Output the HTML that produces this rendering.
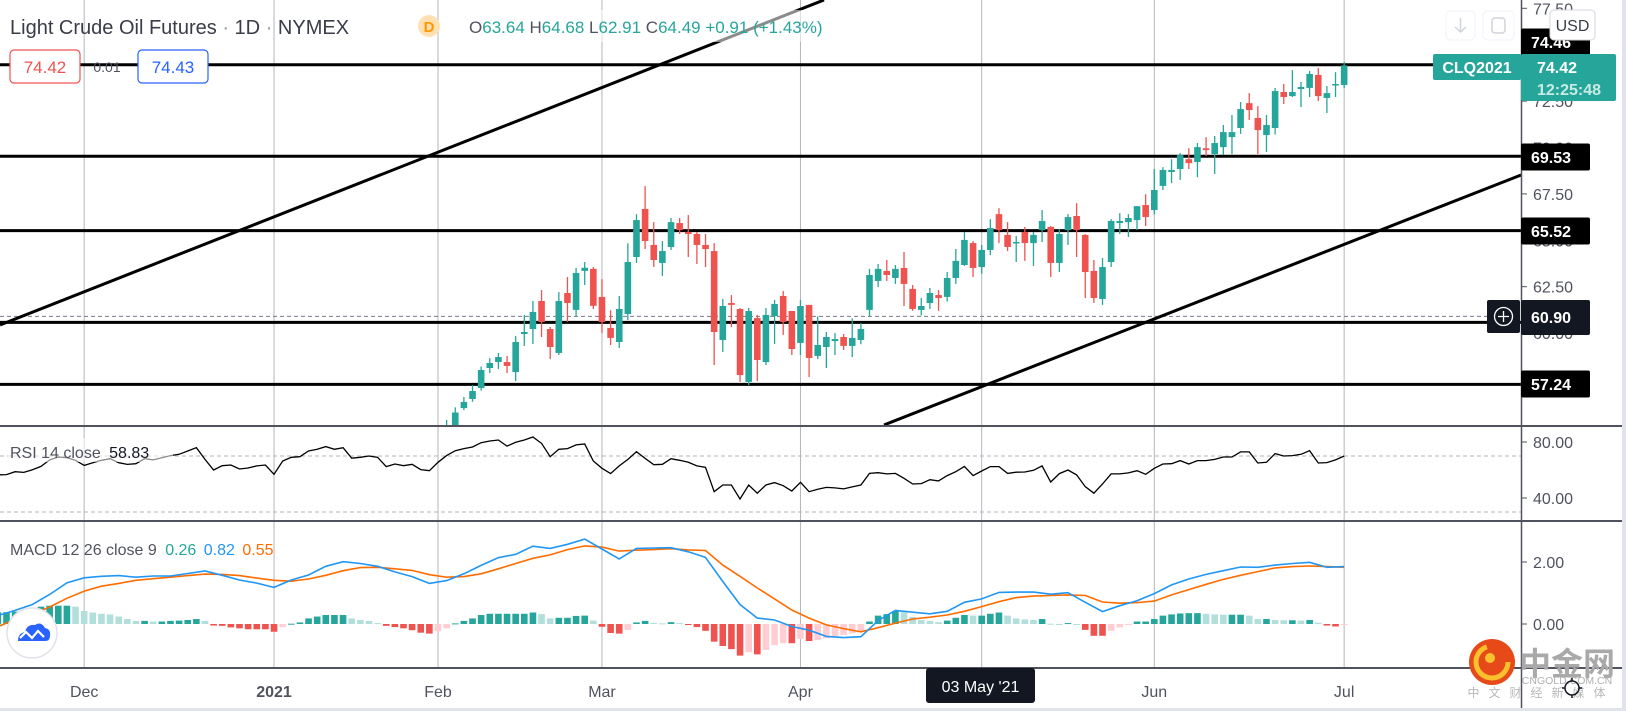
<!DOCTYPE html>
<html><head><meta charset="utf-8"><title>Light Crude Oil Futures</title>
<style>
html,body{margin:0;padding:0;background:#fff;}
svg{display:block;font-family:"Liberation Sans","Noto Sans CJK SC",sans-serif;}
</style></head>
<body>
<svg id="chart" width="1626" height="711" viewBox="0 0 1626 711" xmlns="http://www.w3.org/2000/svg">
<defs>
<clipPath id="cp-price"><rect x="0" y="0" width="1521" height="426"/></clipPath>
<clipPath id="cp-rsi"><rect x="0" y="427" width="1521" height="94"/></clipPath>
<clipPath id="cp-macd"><rect x="0" y="522" width="1521" height="146"/></clipPath>
</defs>
<rect x="0" y="0" width="1626" height="711" fill="#ffffff"/>
<rect x="1622" y="0" width="4" height="711" fill="#e0e3eb"/>
<rect x="0" y="708" width="1626" height="3" fill="#e0e3eb"/>
<g id="grid"></g>
<g id="price-pane" clip-path="url(#cp-price)"></g>
<g id="rsi-pane" clip-path="url(#cp-rsi)"></g>
<g id="macd-pane" clip-path="url(#cp-macd)"></g>
<g id="overlays"></g>
</svg>
<script>
// ---- data ----
const monthLabels = ["Dec","2021","Feb","Mar","Apr","May","Jun","Jul"];
const monthIdx = [-41,-19,0,19,42,63,83,105];
const opens = [52.8,53.9,54.75,55.96,56.45,57.04,58.12,58.44,58.44,57.90,
59.95,60.22,61.73,60.22,58.93,62.16,61.25,63.35,63.46,61.95,
60.28,59.52,61.03,64.10,66.69,64.75,63.78,64.64,65.93,65.45,
65.34,64.75,64.42,59.63,61.62,61.30,57.37,60.81,58.44,60.92,
62.0,61.19,59.47,61.52,58.77,59.25,59.57,59.79,59.31,59.63,
61.25,62.81,63.35,62.97,63.51,62.38,61.25,61.62,62.05,61.95,
62.97,63.67,64.85,63.56,64.48,66.41,65.29,64.85,65.45,64.85,
65.55,65.72,63.78,65.55,66.31,65.29,63.35,61.84,63.83,65.93,
65.98,66.09,66.9,66.63,67.93,68.68,68.84,69.37,69.22,69.96,
69.65,70.02,70.56,71.05,72.39,71.59,70.67,71.05,72.99,72.77,
73.15,73.21,73.91,72.67,73.40,73.37];
const closes = [53.55,54.75,55.72,56.29,56.88,58.01,58.39,58.71,58.23,59.52,
60.06,61.14,60.60,59.25,61.73,61.62,63.24,63.52,61.47,60.60,
59.74,61.30,63.83,66.09,64.96,63.94,64.42,65.98,65.55,65.34,
64.75,64.53,60.06,61.46,61.52,57.74,61.19,58.55,60.98,61.57,
60.60,59.14,61.46,58.66,59.36,59.79,59.68,59.31,59.74,60.22,
63.13,63.46,63.13,63.46,62.65,61.30,61.46,62.16,61.89,62.97,
63.89,65.02,63.51,64.48,65.66,65.55,64.64,64.91,64.85,65.29,
66.04,63.78,65.34,66.25,65.55,63.29,61.89,63.56,66.04,66.04,
66.2,66.84,66.25,67.71,68.79,68.79,69.59,69.16,70.02,69.86,
70.24,70.83,70.83,72.07,72.02,70.94,71.21,73.04,72.72,72.99,
73.26,73.96,72.77,72.93,73.42,74.42];
const highs = [53.9,55.32,56.0,56.56,57.2,58.2,58.65,58.93,58.77,59.85,
60.98,61.73,62.32,60.33,62.21,63.02,63.51,63.83,63.56,62.91,
61.23,62.0,64.84,66.41,67.92,65.98,64.96,66.2,66.2,66.36,
65.45,65.34,64.85,61.84,62.05,61.35,61.35,60.98,61.35,61.79,
62.27,61.2,61.79,61.52,60.90,60.06,60.0,59.95,60.8,60.54,
63.46,63.72,63.94,63.67,64.37,62.59,61.9,62.43,62.32,63.29,
64.53,65.45,64.96,64.75,66.14,66.73,65.98,65.23,65.72,65.45,
66.63,65.77,65.61,66.41,67.0,65.34,63.94,64.04,66.14,66.46,
66.41,66.85,67.48,68.84,68.94,69.37,69.7,69.96,70.24,70.56,
70.62,71.21,71.75,72.45,72.93,72.23,71.75,73.21,73.42,74.17,
73.53,74.12,74.28,73.31,74.06,74.6];
const lows = [52.2,53.7,54.6,55.85,56.3,56.9,57.85,58.07,57.85,57.42,
59.31,59.41,59.79,58.6,58.82,60.6,60.92,62.59,61.3,60.0,
59.36,59.2,60.7,63.78,64.53,63.56,63.08,64.48,65.34,64.1,
63.72,63.56,58.28,58.98,60.33,57.37,57.2,57.42,58.28,59.41,
59.9,58.82,58.82,57.63,58.6,58.12,58.82,59.09,58.71,59.4,
60.9,62.48,62.81,62.65,61.46,61.2,60.95,61.3,61.2,61.7,
62.65,63.62,63.02,63.2,64.2,64.85,64.42,63.83,63.89,63.62,
64.91,63.02,63.29,64.75,64.1,61.89,61.62,61.52,63.56,65.34,
65.18,65.55,65.77,66.4,67.71,68.08,68.25,68.84,68.4,69.54,
68.57,69.59,69.65,70.73,71.48,69.65,69.76,70.7,72.34,72.72,
72.18,72.72,72.5,71.86,72.72,73.2];
const levelPrices = [74.46,69.53,65.52,60.58,57.24];
const levelLabels = ["74.46","69.53","65.52","","57.24"];
const trendStartIdx = [-50.75,51.68];
const trendStartPrice = [60.44,55.05];
const trendEndIdx = [44.73,125.5];
const trendEndPrice = [77.95,68.52];
const priceTicks = [77.5,75,72.5,70,67.5,65,62.5,60,57.5];
const rsiStart = -51;
const rsiValues = [56.5,56.7,58.8,58.3,60.2,62.6,67.2,69.3,68.8,66.9,
63.3,65.2,66.9,68.1,65.2,64.0,64.5,68.1,67.2,68.8,
70.3,71.2,73.6,75.9,67.6,60.0,63.1,63.6,60.7,61.4,
62.9,63.6,56.9,66.4,69.1,69.5,73.6,74.8,76.7,74.8,
75.9,68.4,69.1,70.0,69.1,62.4,64.3,63.1,64.1,60.3,
59.5,65.5,70.3,73.8,75.3,76.4,79.5,80.7,81.4,77.1,
79.8,81.4,83.6,79.0,69.5,74.8,75.3,77.9,78.6,66.4,
61.2,57.4,62.9,67.6,73.1,68.3,63.8,64.1,68.1,66.9,
65.5,62.9,61.9,44.5,49.3,49.3,39.3,49.3,43.4,49.3,
51.0,48.8,45.0,51.2,44.5,46.2,47.6,47.2,46.5,47.9,
49.3,57.6,58.1,57.2,57.6,54.1,50.0,50.3,53.1,52.2,
56.0,58.8,62.6,56.0,59.3,62.4,62.4,57.6,58.4,58.6,
59.8,62.9,51.4,57.4,60.0,56.5,48.1,43.4,50.0,57.2,
57.2,57.9,59.5,56.9,61.2,64.3,64.5,66.7,64.3,66.7,
66.7,67.6,69.3,69.3,72.9,72.9,65.0,65.5,71.7,70.0,
70.3,71.2,73.8,65.0,65.3,67.2,70.0];
const rsiTicks = [80,40];
const macdStart = -51;
const macdStep = 2;
const macdValues = [0.27,0.44,0.63,0.95,1.33,1.49,1.54,1.56,1.51,1.55,
1.55,1.63,1.71,1.57,1.42,1.32,1.18,1.42,1.58,1.86,
2.01,1.95,1.86,1.68,1.53,1.31,1.40,1.62,1.89,2.14,
2.25,2.51,2.44,2.57,2.74,2.42,2.10,2.44,2.45,2.46,
2.33,2.15,1.37,0.63,0.19,0.13,-0.08,-0.20,-0.40,-0.44,
-0.41,0.11,0.44,0.38,0.33,0.41,0.70,0.81,1.02,1.03,
1.03,0.96,1.01,0.70,0.40,0.59,0.75,0.98,1.26,1.45,
1.60,1.72,1.84,1.83,1.90,1.95,1.99,1.83,1.85];
const signalValues = [-0.09,0.15,0.31,0.55,0.83,1.06,1.22,1.31,1.41,1.46,
1.51,1.56,1.61,1.60,1.56,1.48,1.41,1.38,1.45,1.57,
1.72,1.82,1.83,1.78,1.73,1.59,1.51,1.53,1.62,1.78,
1.95,2.12,2.23,2.40,2.52,2.48,2.35,2.38,2.40,2.43,
2.39,2.37,1.90,1.54,1.16,0.81,0.45,0.19,-0.03,-0.15,
-0.25,-0.12,0.03,0.16,0.22,0.29,0.41,0.56,0.72,0.85,
0.90,0.92,0.94,0.92,0.71,0.67,0.69,0.74,0.94,1.11,
1.28,1.44,1.57,1.69,1.81,1.85,1.87,1.85,1.83];
const histStart = -51;
const histValues = [0.38,0.38,0.40,0.45,0.51,0.56,0.59,0.59,0.59,
0.56,0.42,0.37,0.33,0.31,0.24,0.16,0.10,
0.10,0.08,0.08,0.10,0.11,0.13,0.16,0.10,
-0.05,-0.06,-0.11,-0.14,-0.17,-0.17,-0.17,-0.25,-0.10,
0.01,0.05,0.18,0.24,0.29,0.29,0.29,0.18,0.13,0.10,0.03,
-0.06,-0.10,-0.14,-0.20,-0.28,-0.31,-0.23,-0.14,
0.02,0.10,0.18,0.29,0.33,0.33,0.33,0.33,0.33,0.37,0.32,
0.18,0.20,0.20,0.26,0.27,0.11,
-0.09,-0.29,-0.31,-0.19,0.05,0.10,0.04,0.02,0.06,
0.03,-0.03,-0.10,-0.22,-0.57,-0.71,-0.81,-1.02,-0.91,-0.98,-0.84,-0.68,-0.62,-0.62,-0.48,-0.55,-0.52,-0.46,-0.39,-0.35,-0.30,-0.25,
0.08,0.27,0.32,0.42,0.38,0.23,0.13,0.10,0.06,0.11,0.20,0.29,0.27,0.27,0.33,0.37,0.27,0.18,0.15,0.13,0.16,0.01,0.00,0.03,0.00,
-0.19,-0.38,-0.38,-0.22,-0.11,-0.02,0.08,0.08,0.16,0.27,0.31,0.34,0.35,0.35,0.33,0.31,0.30,0.30,0.30,0.27,0.16,0.16,0.13,0.12,0.12,0.11,0.13,0.04,-0.05,-0.08,-0.02];
const macdTicks = [2,0];

// ---- axes ----
const NS = "http://www.w3.org/2000/svg";
const xk = k => 438 + 8.63 * k;
const yP = p => 286.7 - (p - 62.5) * 18.56;
const yR = v => 442 + (80 - v) * 1.4;
const yM = v => 624 - v * 31;
function mk(tag, attrs, parent, text){
  const e = document.createElementNS(NS, tag);
  for (const a in attrs) e.setAttribute(a, attrs[a]);
  if (text !== undefined) e.textContent = text;
  parent.appendChild(e);
  return e;
}
const grid = document.getElementById('grid');
const pp = document.getElementById('price-pane');
const rp = document.getElementById('rsi-pane');
const mp = document.getElementById('macd-pane');
const ov = document.getElementById('overlays');

// vertical grid + time labels
monthLabels.forEach((lab, i) => {
  const x = xk(monthIdx[i]);
  const l = mk('line', {x1:x, x2:x, y1:0, y2:668, stroke:'#b2b5be', 'stroke-width':1}, grid);
  
  
  if (lab !== 'May') {
    const t = mk('text', {x:x, y:697, 'text-anchor':'middle', 'font-size':16, fill:'#50535e', 'font-weight': lab === '2021' ? 'bold' : 'normal'}, ov, lab);
    
    
  }
});

// horizontal levels
levelPrices.forEach((p, i) => {
  const l = mk('line', {x1:0, x2:1521, y1:yP(p), y2:yP(p), stroke:'#000', 'stroke-width':3}, pp);
  
  
});
const dl = mk('line', {x1:0, x2:1487, y1:yP(60.90), y2:yP(60.90), stroke:'#787b86', 'stroke-width':1, 'stroke-dasharray':'4 3'}, pp);



// trendlines
trendStartIdx.forEach((s, i) => {
  const l = mk('line', {x1:xk(s), y1:yP(trendStartPrice[i]), x2:xk(trendEndIdx[i]), y2:yP(trendEndPrice[i]), stroke:'#000', 'stroke-width':3}, pp);
  
  
});

// candles
closes.forEach((c, k) => {
  const o = opens[k], up = c >= o, col = up ? '#26a69a' : '#ef5350';
  const x = xk(k);
  const g = mk('g', {}, pp);
  
  
  mk('line', {x1:x, x2:x, y1:yP(highs[k]), y2:yP(lows[k]), stroke:col, 'stroke-width':1.3}, g);
  const top = yP(Math.max(o, c)), bot = yP(Math.min(o, c));
  mk('rect', {x:x - 3.3, y:top, width:6.6, height:Math.max(1.5, bot - top), fill:col}, g);
});

// RSI
[70,30].forEach(v => {
  const l = mk('line', {x1:0, x2:1521, y1:yR(v), y2:yR(v), stroke:'#b2b5be', 'stroke-width':1, 'stroke-dasharray':'4 3'}, rp);
  
  
});
const rpts = rsiValues.map((v, i) => xk(rsiStart + i).toFixed(1) + ',' + yR(v).toFixed(1)).join(' ');
const rl = mk('polyline', {points:rpts, fill:'none', stroke:'#000', 'stroke-width':1.3}, rp);



// MACD histogram
histValues.forEach((v, i) => {
  const prev = i > 0 ? histValues[i - 1] : v;
  let col;
  if (v >= 0) col = v >= prev ? '#26a69a' : '#b2dfdb';
  else col = v <= prev ? '#ef5350' : '#ffcdd2';
  const x = xk(histStart + i);
  const y0 = yM(0), y1 = yM(v);
  const b = mk('rect', {x:x - 3.3, y:Math.min(y0, y1), width:6.6, height:Math.max(1, Math.abs(y1 - y0)), fill:col}, mp);
  
  
});
const mpts = macdValues.map((v, i) => xk(macdStart + i * macdStep).toFixed(1) + ',' + yM(v).toFixed(1)).join(' ');
const spts = signalValues.map((v, i) => xk(macdStart + i * macdStep).toFixed(1) + ',' + yM(v).toFixed(1)).join(' ');
const sl = mk('polyline', {points:spts, fill:'none', stroke:'#ff6d00', 'stroke-width':1.6}, mp);


const ml = mk('polyline', {points:mpts, fill:'none', stroke:'#2196f3', 'stroke-width':1.6}, mp);



// pane separators and axis line
[[426,'price-rsi-separator'],[521,'rsi-macd-separator'],[668,'time-axis-line']].forEach(s => {
  const l = mk('line', {x1:0, x2:1622, y1:s[0], y2:s[0], stroke:'#50535e', 'stroke-width':2}, ov);
  
  
});
const al = mk('line', {x1:1521.5, x2:1521.5, y1:0, y2:708, stroke:'#50535e', 'stroke-width':1.5}, ov);



// price ticks
priceTicks.forEach(p => {
  const y = yP(p);
  mk('line', {x1:1521, x2:1527, y1:y, y2:y, stroke:'#50535e', 'stroke-width':1}, ov);
  const t = mk('text', {x:1533, y:y + 6, 'font-size':16, fill:'#50535e'}, ov, p.toFixed(2));
  
  
});
rsiTicks.forEach(v => {
  const y = yR(v);
  mk('line', {x1:1521, x2:1527, y1:y, y2:y, stroke:'#50535e', 'stroke-width':1}, ov);
  const t = mk('text', {x:1533, y:y + 6, 'font-size':16, fill:'#50535e'}, ov, v.toFixed(2));
  
  
});
macdTicks.forEach(v => {
  const y = yM(v);
  mk('line', {x1:1521, x2:1527, y1:y, y2:y, stroke:'#50535e', 'stroke-width':1}, ov);
  const t = mk('text', {x:1533, y:y + 6, 'font-size':16, fill:'#50535e'}, ov, v.toFixed(2));
  
  
});

// level labels on axis
const levelLabelY = [42, 157, 231, 0, 384];
levelLabels.forEach((lab, i) => {
  if (!lab) return;
  const g = mk('g', {}, ov);
  
  
  mk('rect', {x:1521, y:levelLabelY[i] - 13.5, width:69, height:27, rx:2, fill:'#000'}, g);
  mk('text', {x:1531, y:levelLabelY[i] + 6, 'font-size':16, 'font-weight':'bold', fill:'#fff'}, g, lab);
});
</script>
<!-- static overlays -->
<g>
</g>
<script>
(function(){
  const NS = "http://www.w3.org/2000/svg";
  const ov = document.getElementById('overlays');
  ov.insertAdjacentHTML('beforeend', `
  <rect x="460" y="10" width="430" height="32" fill="#ffffff" fill-opacity="0.55"/>
  <text x="10" y="34" font-size="20" fill="#3a3d48">Light Crude Oil Futures <tspan fill="#9598a1">·</tspan> 1D <tspan fill="#9598a1">·</tspan> NYMEX</text>
  <circle cx="429" cy="26" r="11" fill="#ffe0b2"/>
  <text x="429" y="32" font-size="15" font-weight="bold" fill="#ff9800" text-anchor="middle">D</text>
  <text x="469" y="33" font-size="17" fill="#26a69a"><tspan fill="#50535e">O</tspan>63.64 <tspan fill="#50535e">H</tspan>64.68 <tspan fill="#50535e">L</tspan>62.91 <tspan fill="#50535e">C</tspan>64.49 +0.91 (+1.43%)</text>
  <g>
    <rect x="10" y="50" width="70" height="33" rx="4" fill="#fff" stroke="#ef5350" stroke-width="1.2"/>
    <text x="45" y="73" font-size="17" fill="#ef5350" text-anchor="middle">74.42</text>
  </g>
  <text x="107" y="72" font-size="14" fill="#50535e" text-anchor="middle">0.01</text>
  <g>
    <rect x="138" y="50" width="70" height="33" rx="4" fill="#fff" stroke="#2962ff" stroke-width="1.2"/>
    <text x="173" y="73" font-size="17" fill="#2962ff" text-anchor="middle">74.43</text>
  </g>
  <g>
    <rect x="1446" y="11" width="29" height="29" rx="5" fill="#fff" stroke="#f0f3fa"/>
    <path d="M1460.5 18 v14 M1455 27 l5.5 5 l5.5 -5" stroke="#d1d4dc" stroke-width="1.5" fill="none"/>
  </g>
  <g>
    <rect x="1483" y="11" width="31" height="29" rx="5" fill="#fff" stroke="#f0f3fa"/>
    <rect x="1492" y="18" width="13" height="15" rx="3" fill="none" stroke="#d1d4dc" stroke-width="1.5"/>
  </g>
  <g>
    <rect x="1550" y="10" width="45" height="30" rx="4" fill="#fff" stroke="#d1d4dc"/>
    <text x="1572.5" y="31" font-size="16" fill="#3a3d48" text-anchor="middle">USD</text>
  </g>
  <g>
    <rect x="1433" y="54" width="88" height="26" rx="2" fill="#26a69a"/>
    <text x="1477" y="73" font-size="16" font-weight="bold" fill="#fff" text-anchor="middle">CLQ2021</text>
  </g>
  <g>
    <rect x="1521" y="54" width="95" height="47" rx="2" fill="#26a69a"/>
    <text x="1537" y="73" font-size="16" font-weight="bold" fill="#fff">74.42</text>
    <text x="1537" y="95" font-size="16" font-weight="bold" fill="#c8ebe6">12:25:48</text>
  </g>
  <g>
    <rect x="1487" y="300" width="33" height="33" rx="2" fill="#131722"/>
    <circle cx="1503.5" cy="316.5" r="9" fill="none" stroke="#fff" stroke-width="1.3"/>
    <path d="M1503.5 311 v11 M1498 316.5 h11" stroke="#fff" stroke-width="1.3"/>
  </g>
  <g>
    <rect x="1521" y="300" width="69" height="35" rx="2" fill="#131722"/>
    <text x="1531" y="323" font-size="16" font-weight="bold" fill="#fff">60.90</text>
  </g>
  <rect x="8" y="438" width="165" height="24" fill="#fff" fill-opacity="0.55"/>
  <text x="10" y="458" font-size="16" fill="#50535e">RSI 14 close <tspan dx="4" fill="#131722">58.83</tspan></text>
  <text x="10" y="555" font-size="16" fill="#50535e">MACD 12 26 close 9 <tspan dx="4" fill="#26a69a">0.26</tspan> <tspan dx="3" fill="#2196f3">0.82</tspan> <tspan dx="3" fill="#ff6d00">0.55</tspan></text>
  <g>
    <rect x="926" y="668" width="109" height="35" rx="3" fill="#131722"/>
    <text x="980.5" y="692" font-size="16" fill="#fff" text-anchor="middle">03 May '21</text>
  </g>
  <g>
    <circle cx="32" cy="633" r="25" fill="#fff" stroke="#e0e3eb" stroke-width="1.5"/>
    <path d="M18 641 q0 -8 7 -9 q2 -8 10 -7 q6 -4 10 3 q6 1 5 8 q0 5 -5 5 h-22 q-5 0 -5 0z" fill="#2962ff"/>
    <path d="M20 638 l6 -6 l6 6 l6 -7 l6 6" stroke="#fff" stroke-width="2.2" fill="none"/>
  </g>
  <g>
    <circle cx="1492" cy="662" r="23" fill="#e64a19"/>
    <circle cx="1492" cy="662" r="16" fill="none" stroke="#fbc02d" stroke-width="5" stroke-dasharray="70 40"/>
    <circle cx="1490" cy="658" r="5" fill="#fbc02d"/>
    <text x="1567" y="675" font-size="32" font-weight="bold" fill="#a9a9a9" text-anchor="middle" font-family="'Noto Sans CJK SC',sans-serif">中金网</text>
    <text x="1567" y="684" font-size="10.5" fill="#b0b0b0" text-anchor="middle">CNGOLD.COM.CN</text>
    <text x="1541" y="697" font-size="12" fill="#b8b8b8" text-anchor="middle" letter-spacing="9" font-family="'Noto Sans CJK SC',sans-serif">中文财经新媒体</text>
  </g>
  <g>
    <circle cx="1572" cy="688" r="7" fill="none" stroke="#131722" stroke-width="1.5"/>
    <path d="M1572 678 v3 M1572 695 v3 M1562 688 h3 M1579 688 h3" stroke="#131722" stroke-width="1.5"/>
  </g>
  `);
})();
</script>
</body></html>
